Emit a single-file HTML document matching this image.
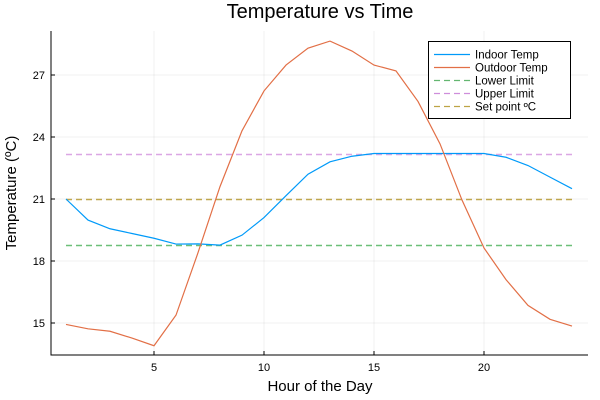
<!DOCTYPE html>
<html><head><meta charset="utf-8"><style>
body{margin:0;background:#fff}
svg{display:block;font-family:"Liberation Sans","DejaVu Sans",sans-serif}
</style></head><body>
<svg id="chart" width="600" height="400"></svg>
<script>
const hours=[1,2,3,4,5,6,7,8,9,10,11,12,13,14,15,16,17,18,19,20,21,22,23,24];
const indoor=[21.0,19.98,19.56,19.33,19.1,18.82,18.83,18.77,19.25,20.1,21.16,22.2,22.8,23.07,23.2,23.2,23.2,23.2,23.2,23.2,23.02,22.62,22.06,21.5];
const outdoor=[14.93,14.72,14.6,14.27,13.9,15.38,18.4,21.6,24.3,26.23,27.48,28.3,28.64,28.16,27.48,27.2,25.72,23.67,20.95,18.63,17.1,15.85,15.18,14.85];
const lowerLimit=18.78, upperLimit=23.2, setPoint=21.0;
const xTicks=[5,10,15,20];
const yTicks=[15,18,21,24,27];
const legendLabels=["Indoor Temp","Outdoor Temp","Lower Limit","Upper Limit","Set point ºC"];

const L=51,R=588,T=31,B=355;
const X=h=>154+22*(h-5);
const Y=v=>75+(27-v)*20.667;
const NS="http://www.w3.org/2000/svg";
const svg=document.getElementById('chart');
function mk(tag,attrs,parent){const e=document.createElementNS(NS,tag);for(const k in attrs)e.setAttribute(k,attrs[k]);(parent||svg).appendChild(e);return e;}

xTicks.forEach(t=>{const g=mk('line',{x1:X(t),x2:X(t),y1:T,y2:B,stroke:'#000','stroke-opacity':0.1,'stroke-width':0.6});

});
yTicks.forEach(t=>{const g=mk('line',{x1:L,x2:R,y1:Y(t),y2:Y(t),stroke:'#000','stroke-opacity':0.1,'stroke-width':0.6});

});

const ax=mk('polyline',{points:`${L},${T} ${L},${B} ${R},${B}`,fill:'none',stroke:'#000','stroke-width':1});



xTicks.forEach(t=>{mk('line',{x1:X(t),x2:X(t),y1:B,y2:B-4,stroke:'#000'});
const tx=mk('text',{x:X(t),y:B+16,'text-anchor':'middle','font-size':11,fill:'#000'});tx.textContent=t;

});
yTicks.forEach(t=>{mk('line',{x1:L,x2:L+4,y1:Y(t),y2:Y(t),stroke:'#000'});
const tx=mk('text',{x:L-6,y:Y(t)+4,'text-anchor':'end','font-size':11,fill:'#000'});tx.textContent=t;

});

function hline(v,color,name){const yy=Math.round(Y(v))+0.5;
const e=mk('line',{x1:X(hours[0]),x2:X(hours[hours.length-1]),y1:yy,y2:yy,stroke:color,'stroke-width':1.5,'stroke-dasharray':'6 4'});

}
hline(lowerLimit,'#6cbf78','lower-limit-line');
hline(upperLimit,'#dba6e4','upper-limit-line');
hline(setPoint,'#c0a74f','set-point-line');

function series(vals,color,name){const e=mk('polyline',{points:hours.map((h,i)=>X(h)+','+Y(vals[i])).join(' '),fill:'none',stroke:color,'stroke-width':1.2});

}
series(indoor,'#009af9','indoor-temp-line');
series(outdoor,'#e26f46','outdoor-temp-line');

const lg=mk('g',{});


mk('rect',{x:428.5,y:41.5,width:142,height:77,fill:'#fff',stroke:'#000','stroke-width':1},lg);
const cols=['#009af9','#e26f46','#3da44d','#c271d2','#ac8d18'];
legendLabels.forEach((lab,i)=>{const y=54.5+i*13;
mk('line',{x1:434,x2:470,y1:y,y2:y,stroke:cols[i],'stroke-opacity':i>1?0.8:1,'stroke-width':1.2,'stroke-dasharray':i>1?'6 4':'none'},lg);
const t=mk('text',{x:475,y:y+4,'font-size':11.5,fill:'#000'},lg);t.textContent=lab;

});

const title=mk('text',{x:320,y:18,'text-anchor':'middle','font-size':20,fill:'#000'});title.textContent='Temperature vs Time';


const xl=mk('text',{x:320,y:391,'text-anchor':'middle','font-size':15,fill:'#000'});xl.textContent='Hour of the Day';


const yl=mk('text',{x:0,y:0,'text-anchor':'middle','font-size':15,fill:'#000',transform:'translate(16,193) rotate(-90)'});yl.textContent='Temperature (ºC)';


</script>
</body></html>
